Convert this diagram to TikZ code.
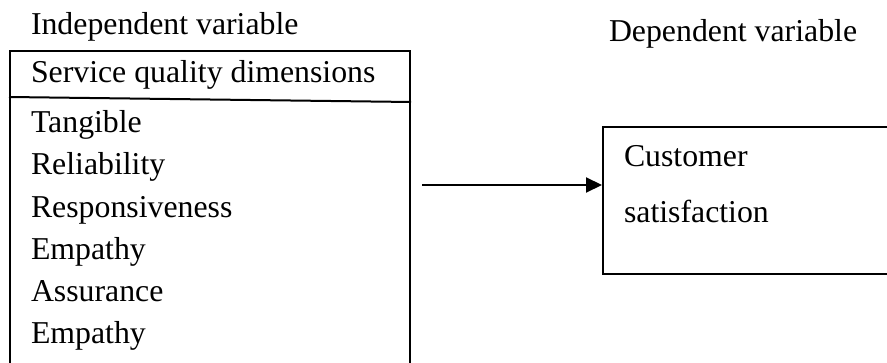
\documentclass[tikz,border=0pt]{standalone}
\usepackage{fontspec}
\setmainfont{Liberation Serif}
\usepackage{tikz}
\usetikzlibrary{positioning, arrows.meta}

\begin{document}
\begin{tikzpicture}[x=0.5pt, y=-0.5pt, line width=1pt,
      label/.style={inner sep=0pt, anchor=base west, font=\fontsize{15.9}{19}\selectfont},
      item/.style={label},
      frame/.style={draw, inner sep=0pt, anchor=north west}
    ]
      \useasboundingbox (0,0) rectangle (887,363);

      \node[label] (ivtitle) at (30,35) {Independent variable};
      \node[label] (dvtitle) at (608,42) {Dependent variable};

      \node[frame, minimum width=200pt, minimum height=170pt] (ivbox) at (9,50) {};
      \draw ([yshift=-23.5pt]ivbox.north west) -- ([yshift=-26pt]ivbox.north east);

      \node[item] (sqd) at (30,83) {Service quality dimensions};
      \node[item] (i1) at (30,133) {Tangible};
      \node[item] (i2) at ([yshift=-21pt]i1.base west) {Reliability};
      \node[item] (i3) at ([yshift=-21pt]i2.base west) {Responsiveness};
      \node[item] (i4) at ([yshift=-21pt]i3.base west) {Empathy};
      \node[item] (i5) at ([yshift=-21pt]i4.base west) {Assurance};
      \node[item] (i6) at ([yshift=-21pt]i5.base west) {Empathy};

      \node[frame, minimum width=160pt, minimum height=73.5pt] (dvbox) at (602,126) {};
      \node[item] (cs1) at (623,167) {Customer};
      \node[item] (cs2) at (623,222) {satisfaction};

      \coordinate (arrowstart) at (422,185);
      \draw[-{Triangle[length=8pt, width=7.5pt]}] (arrowstart) -- (dvbox.west |- arrowstart);
    \end{tikzpicture}
\end{document}
